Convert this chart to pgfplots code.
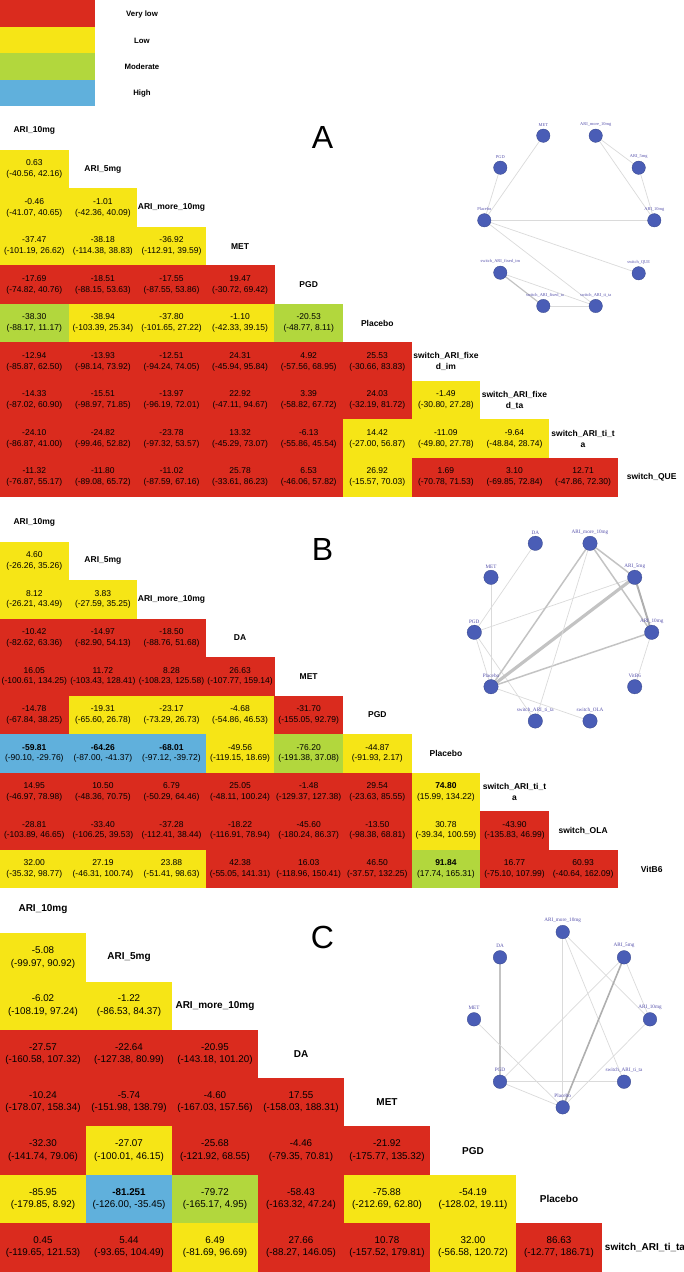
\documentclass[border=0pt]{standalone}
\usepackage{pgfplots}
\pgfplotsset{compat=1.18}
\usepackage{pgfplotstable}
\usepackage{fontspec}
\setmainfont{Liberation Sans}
\newfontfamily\serifnet{Liberation Serif}
\definecolor{nodeblue}{RGB}{74,93,182}
\definecolor{netlab}{RGB}{85,80,170}
\definecolor{edgel}{RGB}{218,218,218}
\definecolor{edgem}{RGB}{195,195,195}
\definecolor{edged}{RGB}{175,175,175}

\pgfdeclareplotmark{cellAB}{\pgfpathrectangle{\pgfpoint{-34.4pt}{-19.35pt}}{\pgfpoint{68.8pt}{38.7pt}}\pgfusepathqfill}
\pgfdeclareplotmark{cellC}{\pgfpathrectangle{\pgfpoint{-43.1pt}{-24.25pt}}{\pgfpoint{86.2pt}{48.5pt}}\pgfusepathqfill}
\pgfdeclareplotmark{legcell}{\pgfpathrectangle{\pgfpoint{-47.5pt}{-13.3pt}}{\pgfpoint{95pt}{26.6pt}}\pgfusepathqfill}

% cell text: estimate, (lower, upper); \cellb = bold
\protected\def\cellt#1#2#3{#1\\(#2, #3)}
\protected\def\cellb#1#2#3{\bfseries #1\\(#2, #3)}

% quality class q: 0 = Very low, 1 = Low, 2 = Moderate, 3 = High
\pgfplotstableread{
r c q lbl
1 0 1 \cellt{0.63}{-40.56}{42.16}
2 0 1 \cellt{-0.46}{-41.07}{40.65}
2 1 1 \cellt{-1.01}{-42.36}{40.09}
3 0 1 \cellt{-37.47}{-101.19}{26.62}
3 1 1 \cellt{-38.18}{-114.38}{38.83}
3 2 1 \cellt{-36.92}{-112.91}{39.59}
4 0 0 \cellt{-17.69}{-74.82}{40.76}
4 1 0 \cellt{-18.51}{-88.15}{53.63}
4 2 0 \cellt{-17.55}{-87.55}{53.86}
4 3 0 \cellt{19.47}{-30.72}{69.42}
5 0 2 \cellt{-38.30}{-88.17}{11.17}
5 1 1 \cellt{-38.94}{-103.39}{25.34}
5 2 1 \cellt{-37.80}{-101.65}{27.22}
5 3 1 \cellt{-1.10}{-42.33}{39.15}
5 4 2 \cellt{-20.53}{-48.77}{8.11}
6 0 0 \cellt{-12.94}{-85.87}{62.50}
6 1 0 \cellt{-13.93}{-98.14}{73.92}
6 2 0 \cellt{-12.51}{-94.24}{74.05}
6 3 0 \cellt{24.31}{-45.94}{95.84}
6 4 0 \cellt{4.92}{-57.56}{68.95}
6 5 0 \cellt{25.53}{-30.66}{83.83}
7 0 0 \cellt{-14.33}{-87.02}{60.90}
7 1 0 \cellt{-15.51}{-98.97}{71.85}
7 2 0 \cellt{-13.97}{-96.19}{72.01}
7 3 0 \cellt{22.92}{-47.11}{94.67}
7 4 0 \cellt{3.39}{-58.82}{67.72}
7 5 0 \cellt{24.03}{-32.19}{81.72}
7 6 1 \cellt{-1.49}{-30.80}{27.28}
8 0 0 \cellt{-24.10}{-86.87}{41.00}
8 1 0 \cellt{-24.82}{-99.46}{52.82}
8 2 0 \cellt{-23.78}{-97.32}{53.57}
8 3 0 \cellt{13.32}{-45.29}{73.07}
8 4 0 \cellt{-6.13}{-55.86}{45.54}
8 5 1 \cellt{14.42}{-27.00}{56.87}
8 6 1 \cellt{-11.09}{-49.80}{27.78}
8 7 1 \cellt{-9.64}{-48.84}{28.74}
9 0 0 \cellt{-11.32}{-76.87}{55.17}
9 1 0 \cellt{-11.80}{-89.08}{65.72}
9 2 0 \cellt{-11.02}{-87.59}{67.16}
9 3 0 \cellt{25.78}{-33.61}{86.23}
9 4 0 \cellt{6.53}{-46.06}{57.82}
9 5 1 \cellt{26.92}{-15.57}{70.03}
9 6 0 \cellt{1.69}{-70.78}{71.53}
9 7 0 \cellt{3.10}{-69.85}{72.84}
9 8 0 \cellt{12.71}{-47.86}{72.30}
}\tabA

\pgfplotstableread{
r c q lbl
1 0 1 \cellt{4.60}{-26.26}{35.26}
2 0 1 \cellt{8.12}{-26.21}{43.49}
2 1 1 \cellt{3.83}{-27.59}{35.25}
3 0 0 \cellt{-10.42}{-82.62}{63.36}
3 1 0 \cellt{-14.97}{-82.90}{54.13}
3 2 0 \cellt{-18.50}{-88.76}{51.68}
4 0 0 \cellt{16.05}{-100.61}{134.25}
4 1 0 \cellt{11.72}{-103.43}{128.41}
4 2 0 \cellt{8.28}{-108.23}{125.58}
4 3 0 \cellt{26.63}{-107.77}{159.14}
5 0 0 \cellt{-14.78}{-67.84}{38.25}
5 1 1 \cellt{-19.31}{-65.60}{26.78}
5 2 1 \cellt{-23.17}{-73.29}{26.73}
5 3 1 \cellt{-4.68}{-54.86}{46.53}
5 4 0 \cellt{-31.70}{-155.05}{92.79}
6 0 3 \cellb{-59.81}{-90.10}{-29.76}
6 1 3 \cellb{-64.26}{-87.00}{-41.37}
6 2 3 \cellb{-68.01}{-97.12}{-39.72}
6 3 1 \cellt{-49.56}{-119.15}{18.69}
6 4 2 \cellt{-76.20}{-191.38}{37.08}
6 5 1 \cellt{-44.87}{-91.93}{2.17}
7 0 0 \cellt{14.95}{-46.97}{78.98}
7 1 0 \cellt{10.50}{-48.36}{70.75}
7 2 0 \cellt{6.79}{-50.29}{64.46}
7 3 0 \cellt{25.05}{-48.11}{100.24}
7 4 0 \cellt{-1.48}{-129.37}{127.38}
7 5 0 \cellt{29.54}{-23.63}{85.55}
7 6 1 \cellb{74.80}{15.99}{134.22}
8 0 0 \cellt{-28.81}{-103.89}{46.65}
8 1 0 \cellt{-33.40}{-106.25}{39.53}
8 2 0 \cellt{-37.28}{-112.41}{38.44}
8 3 0 \cellt{-18.22}{-116.91}{78.94}
8 4 0 \cellt{-45.60}{-180.24}{86.37}
8 5 0 \cellt{-13.50}{-98.38}{68.81}
8 6 1 \cellt{30.78}{-39.34}{100.59}
8 7 0 \cellt{-43.90}{-135.83}{46.99}
9 0 1 \cellt{32.00}{-35.32}{98.77}
9 1 1 \cellt{27.19}{-46.31}{100.74}
9 2 1 \cellt{23.88}{-51.41}{98.63}
9 3 0 \cellt{42.38}{-55.05}{141.31}
9 4 0 \cellt{16.03}{-118.96}{150.41}
9 5 0 \cellt{46.50}{-37.57}{132.25}
9 6 2 \cellb{91.84}{17.74}{165.31}
9 7 0 \cellt{16.77}{-75.10}{107.99}
9 8 0 \cellt{60.93}{-40.64}{162.09}
}\tabB

\pgfplotstableread{
r c q lbl
1 0 1 \cellt{-5.08}{-99.97}{90.92}
2 0 1 \cellt{-6.02}{-108.19}{97.24}
2 1 1 \cellt{-1.22}{-86.53}{84.37}
3 0 0 \cellt{-27.57}{-160.58}{107.32}
3 1 0 \cellt{-22.64}{-127.38}{80.99}
3 2 0 \cellt{-20.95}{-143.18}{101.20}
4 0 0 \cellt{-10.24}{-178.07}{158.34}
4 1 0 \cellt{-5.74}{-151.98}{138.79}
4 2 0 \cellt{-4.60}{-167.03}{157.56}
4 3 0 \cellt{17.55}{-158.03}{188.31}
5 0 0 \cellt{-32.30}{-141.74}{79.06}
5 1 1 \cellt{-27.07}{-100.01}{46.15}
5 2 0 \cellt{-25.68}{-121.92}{68.55}
5 3 0 \cellt{-4.46}{-79.35}{70.81}
5 4 0 \cellt{-21.92}{-175.77}{135.32}
6 0 1 \cellt{-85.95}{-179.85}{8.92}
6 1 3 \cellb{-81.251}{-126.00}{-35.45}
6 2 2 \cellt{-79.72}{-165.17}{4.95}
6 3 0 \cellt{-58.43}{-163.32}{47.24}
6 4 1 \cellt{-75.88}{-212.69}{62.80}
6 5 1 \cellt{-54.19}{-128.02}{19.11}
7 0 0 \cellt{0.45}{-119.65}{121.53}
7 1 0 \cellt{5.44}{-93.65}{104.49}
7 2 1 \cellt{6.49}{-81.69}{96.69}
7 3 0 \cellt{27.66}{-88.27}{146.05}
7 4 0 \cellt{10.78}{-157.52}{179.81}
7 5 1 \cellt{32.00}{-56.58}{120.72}
7 6 0 \cellt{86.63}{-12.77}{186.71}
}\tabC

\pgfplotsset{
  colormap={quality}{rgb255=(218,43,30) rgb255=(246,229,22) rgb255=(178,215,60) rgb255=(96,176,220)},
  qcells/.style={
    colormap name=quality, scatter, only marks, mark=#1,
    point meta=explicit, point meta min=0, point meta max=3,
  },
  txt/.style={
    only marks, mark=*, mark size=0pt, mark options={draw=none, fill=none},
    point meta=explicit symbolic,
    nodes near coords={\pgfplotspointmeta},
    every node near coord/.append style={anchor=center, align=center, inner sep=0pt, text=black, font=#1},
  },
  eL/.style={no marks, color=edgel, line width=0.7pt},
  eM/.style={no marks, color=edgem, line width=1.5pt},
  eD/.style={no marks, color=edged, line width=2pt},
  eT/.style={no marks, color=edgem, line width=3.2pt},
  nets/.style={only marks, mark=*, mark size=#1, mark options={fill=nodeblue, draw=nodeblue!75!black, line width=0.3pt}},
}
\tikzset{
  hdAB/.style={font=\bfseries\fontsize{8.5}{11}\selectfont, align=center, inner sep=0pt},
  hdC/.style={font=\bfseries\fontsize{10}{12}\selectfont, align=center, inner sep=0pt},
  nlA/.style={font=\serifnet\fontsize{4.4}{5}\selectfont, text=netlab, inner sep=0pt},
  nlB/.style={font=\serifnet\fontsize{5.2}{6}\selectfont, text=netlab, inner sep=0pt},
  letter/.style={font=\fontsize{32}{32}\selectfont, inner sep=0pt},
  lg/.style={font=\bfseries\fontsize{7.8}{9}\selectfont, inner sep=0pt},
}

\begin{document}
\begin{tikzpicture}
\begin{axis}[
  at={(0pt,0pt)}, anchor=south west,
  width=684pt, height=1272pt, scale only axis,
  xmin=0, xmax=684, ymin=0, ymax=1272, y dir=reverse,
  hide axis, clip=false,
]
% ---------- legend ----------
\addplot[qcells=legcell] table[meta=q] {
x y q
47.5 13.3 0
47.5 39.9 1
47.5 66.5 2
47.5 93.1 3
};
\node[lg] at (axis cs:142,14) {Very low};
\node[lg] at (axis cs:142,40.5) {Low};
\node[lg] at (axis cs:142,67) {Moderate};
\node[lg] at (axis cs:142,93.5) {High};

% ---------- panel A ----------
\addplot[qcells=cellAB]
  table[x expr=(\thisrow{c}+0.5)*68.6, y expr=150+(\thisrow{r}-0.5)*38.5, meta=q] {\tabA};
\addplot[txt={\fontsize{8.5}{10.7}\selectfont}]
  table[x expr=(\thisrow{c}+0.5)*68.6, y expr=150+(\thisrow{r}-0.5)*38.5, meta=lbl] {\tabA};
\node[hdAB] at (axis cs:34.3,130.75) {ARI\_10mg};
\node[hdAB] at (axis cs:102.9,169.25) {ARI\_5mg};
\node[hdAB] at (axis cs:171.5,207.75) {ARI\_more\_10mg};
\node[hdAB] at (axis cs:240.1,246.25) {MET};
\node[hdAB] at (axis cs:308.7,284.75) {PGD};
\node[hdAB] at (axis cs:377.3,323.25) {Placebo};
\node[hdAB] at (axis cs:445.9,361.75) {switch\_ARI\_fixe\\d\_im};
\node[hdAB] at (axis cs:514.5,400.25) {switch\_ARI\_fixe\\d\_ta};
\node[hdAB] at (axis cs:583.1,438.75) {switch\_ARI\_ti\_t\\a};
\node[hdAB] at (axis cs:651.7,477.25) {switch\_QUE};
\node[letter] at (axis cs:322.5,137) {A};

% network A
\addplot[eL] coordinates {(543.3,135.7) (484.3,220.3)};
\addplot[eL] coordinates {(500.3,167.7) (484.3,220.3)};
\addplot[eL] coordinates {(484.3,220.3) (654.3,220.3)};
\addplot[eL] coordinates {(484.3,220.3) (638.7,273.3)};
\addplot[eL] coordinates {(484.3,220.3) (595.7,306)};
\addplot[eL, line width=1.2pt, color=edgem] coordinates {(500.3,272.7) (543.3,306)};
\addplot[eL] coordinates {(500.3,272.7) (595.7,306)};
\addplot[eL] coordinates {(543.3,306) (595.7,306)};
\addplot[eL] coordinates {(595.7,135.7) (638.7,167.7)};
\addplot[eL] coordinates {(595.7,135.7) (654.3,220.3)};
\addplot[eL] coordinates {(638.7,167.7) (654.3,220.3)};
\addplot[nets=6.7pt] coordinates {(543.3,135.7) (595.7,135.7) (638.7,167.7) (654.3,220.3) (638.7,273.3) (595.7,306) (543.3,306) (500.3,272.7) (484.3,220.3) (500.3,167.7)};
\node[nlA] at (axis cs:543.3,124.7) {MET};
\node[nlA] at (axis cs:595.7,124.7) {ARI\_more\_10mg};
\node[nlA] at (axis cs:638.7,156.7) {ARI\_5mg};
\node[nlA] at (axis cs:654.3,209.3) {ARI\_10mg};
\node[nlA] at (axis cs:638.7,262.3) {switch\_QUE};
\node[nlA] at (axis cs:595.7,295) {switch\_ARI\_ti\_ta};
\node[nlA] at (axis cs:545,295) {switch\_ARI\_fixed\_ta};
\node[nlA] at (axis cs:500.3,261.7) {switch\_ARI\_fixed\_im};
\node[nlA] at (axis cs:484.3,209.3) {Placebo};
\node[nlA] at (axis cs:500.3,156.7) {PGD};

% ---------- panel B ----------
\addplot[qcells=cellAB]
  table[x expr=(\thisrow{c}+0.5)*68.6, y expr=541.7+(\thisrow{r}-0.5)*38.5, meta=q] {\tabB};
\addplot[txt={\fontsize{8.5}{10.7}\selectfont}]
  table[x expr=(\thisrow{c}+0.5)*68.6, y expr=541.7+(\thisrow{r}-0.5)*38.5, meta=lbl] {\tabB};
\node[hdAB] at (axis cs:34.3,522.45) {ARI\_10mg};
\node[hdAB] at (axis cs:102.9,560.95) {ARI\_5mg};
\node[hdAB] at (axis cs:171.5,599.45) {ARI\_more\_10mg};
\node[hdAB] at (axis cs:240.1,637.95) {DA};
\node[hdAB] at (axis cs:308.7,676.45) {MET};
\node[hdAB] at (axis cs:377.3,714.95) {PGD};
\node[hdAB] at (axis cs:445.9,753.45) {Placebo};
\node[hdAB] at (axis cs:514.5,791.95) {switch\_ARI\_ti\_t\\a};
\node[hdAB] at (axis cs:583.1,830.45) {switch\_OLA};
\node[hdAB] at (axis cs:651.7,868.95) {VitB6};
\node[letter] at (axis cs:322.5,549) {B};

% network B
\addplot[eL] coordinates {(535.3,543.3) (474.3,632.3)};
\addplot[eL] coordinates {(491,577.3) (491,686.7)};
\addplot[eL] coordinates {(474.3,632.3) (634.7,577.3)};
\addplot[eL] coordinates {(474.3,632.3) (491,686.7)};
\addplot[eL] coordinates {(474.3,632.3) (535.3,721)};
\addplot[eL] coordinates {(491,686.7) (590,721)};
\addplot[eM] coordinates {(491,686.7) (590,543.3)};
\addplot[eT] coordinates {(491,686.7) (634.7,577.3)};
\addplot[eM] coordinates {(491,686.7) (651.7,632.3)};
\addplot[eM] coordinates {(590,543.3) (634.7,577.3)};
\addplot[eM] coordinates {(590,543.3) (651.7,632.3)};
\addplot[eD] coordinates {(634.7,577.3) (651.7,632.3)};
\addplot[eL] coordinates {(651.7,632.3) (634.7,686.7)};
\addplot[eL] coordinates {(590,543.3) (535.3,721)};
\addplot[nets=7.2pt] coordinates {(535.3,543.3) (590,543.3) (634.7,577.3) (651.7,632.3) (634.7,686.7) (590,721) (535.3,721) (491,686.7) (474.3,632.3) (491,577.3)};
\node[nlB] at (axis cs:535.3,532.3) {DA};
\node[nlB] at (axis cs:590,532.3) {ARI\_more\_10mg};
\node[nlB] at (axis cs:634.7,566.3) {ARI\_5mg};
\node[nlB] at (axis cs:651.7,621.3) {ARI\_10mg};
\node[nlB] at (axis cs:634.7,675.7) {VitB6};
\node[nlB] at (axis cs:590,710) {switch\_OLA};
\node[nlB] at (axis cs:535.3,710) {switch\_ARI\_ti\_ta};
\node[nlB] at (axis cs:491,675.7) {Placebo};
\node[nlB] at (axis cs:474.3,621.3) {PGD};
\node[nlB] at (axis cs:491,566.3) {MET};

% ---------- panel C ----------
\addplot[qcells=cellC]
  table[x expr=(\thisrow{c}+0.5)*86, y expr=933.3+(\thisrow{r}-0.5)*48.3, meta=q] {\tabC};
\addplot[txt={\fontsize{9.8}{12.4}\selectfont}]
  table[x expr=(\thisrow{c}+0.5)*86, y expr=933.3+(\thisrow{r}-0.5)*48.3, meta=lbl] {\tabC};
\node[hdC] at (axis cs:43,909.15) {ARI\_10mg};
\node[hdC] at (axis cs:129,957.45) {ARI\_5mg};
\node[hdC] at (axis cs:215,1005.75) {ARI\_more\_10mg};
\node[hdC] at (axis cs:301,1054.05) {DA};
\node[hdC] at (axis cs:387,1102.35) {MET};
\node[hdC] at (axis cs:473,1150.65) {PGD};
\node[hdC] at (axis cs:559,1198.95) {Placebo};
\node[hdC] at (axis cs:645,1247.25) {switch\_ARI\_ti\_ta};
\node[letter] at (axis cs:322.5,937) {C};

% network C
\addplot[eM, line width=1.3pt] coordinates {(500,957.3) (500,1081.7)};
\addplot[eL] coordinates {(474,1019.3) (562.7,1107.3)};
\addplot[eL] coordinates {(500,1081.7) (562.7,1107.3)};
\addplot[eL] coordinates {(500,1081.7) (624,1081.7)};
\addplot[eL] coordinates {(500,1081.7) (624,957.3)};
\addplot[eL] coordinates {(562.7,932) (562.7,1107.3)};
\addplot[eL] coordinates {(562.7,932) (650,1019.3)};
\addplot[eL] coordinates {(562.7,932) (624,1081.7)};
\addplot[eD, line width=1.6pt] coordinates {(624,957.3) (562.7,1107.3)};
\addplot[eL] coordinates {(624,957.3) (650,1019.3)};
\addplot[eL] coordinates {(650,1019.3) (562.7,1107.3)};
\addplot[nets=6.8pt] coordinates {(562.7,932) (624,957.3) (650,1019.3) (624,1081.7) (562.7,1107.3) (500,1081.7) (474,1019.3) (500,957.3)};
\node[nlB] at (axis cs:562.7,920) {ARI\_more\_10mg};
\node[nlB] at (axis cs:624,945.3) {ARI\_5mg};
\node[nlB] at (axis cs:650,1007.3) {ARI\_10mg};
\node[nlB] at (axis cs:624,1069.7) {switch\_ARI\_ti\_ta};
\node[nlB] at (axis cs:562.7,1095.3) {Placebo};
\node[nlB] at (axis cs:500,1069.7) {PGD};
\node[nlB] at (axis cs:474,1007.3) {MET};
\node[nlB] at (axis cs:500,945.3) {DA};
\end{axis}
\pgfresetboundingbox
\path[use as bounding box] (0,0) rectangle (684pt,1272pt);
\end{tikzpicture}
\end{document}
